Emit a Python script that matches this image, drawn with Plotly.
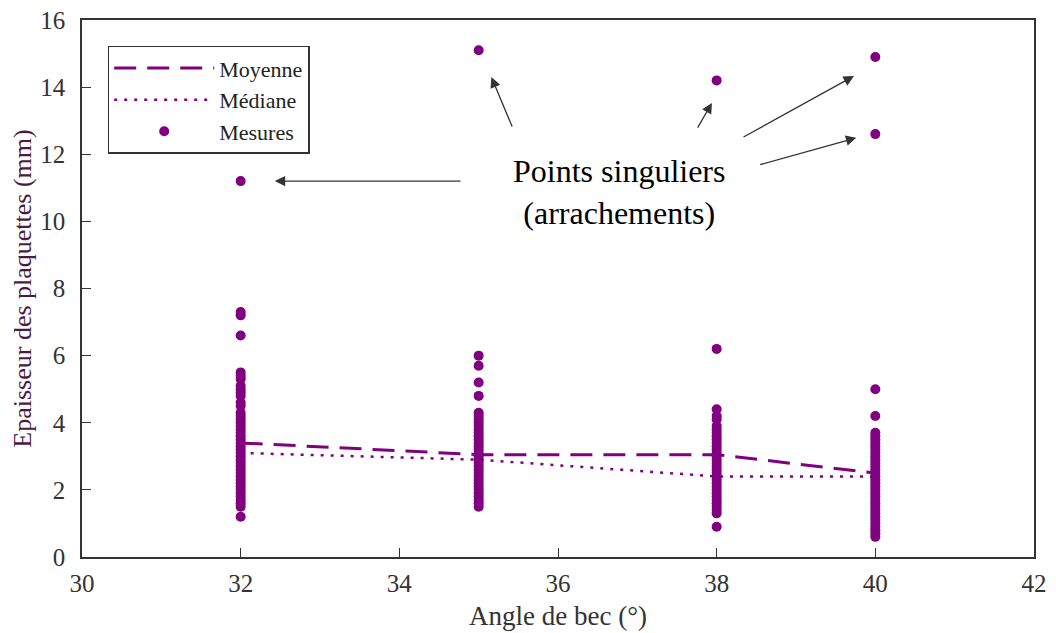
import plotly.graph_objects as go

# Summary lines
angles = [32, 35, 38, 40]
moyenne = [3.4, 3.05, 3.05, 2.5]
mediane = [3.1, 2.9, 2.4, 2.4]

# Individual measurements (mm) per angle
mes_32 = [1.2, 1.5, 1.6, 1.7, 1.8, 1.9, 2.0, 2.1, 2.2, 2.3, 2.4, 2.5, 2.6, 2.7,
          2.8, 2.9, 3.0, 3.1, 3.2, 3.3, 3.4, 3.5, 3.6, 3.7, 3.8, 3.9, 4.0, 4.1,
          4.2, 4.3, 4.5, 4.6, 4.8, 4.9, 5.0, 5.1, 5.3, 5.4, 5.5, 6.6, 7.2, 7.3, 11.2]
mes_35 = [1.5, 1.6, 1.7, 1.8, 1.9, 2.0, 2.1, 2.2, 2.3, 2.4, 2.5, 2.6, 2.7, 2.8,
          2.9, 3.0, 3.1, 3.2, 3.3, 3.4, 3.5, 3.6, 3.7, 3.8, 3.9, 4.0, 4.1, 4.2,
          4.3, 4.8, 5.2, 5.7, 6.0, 15.1]
mes_38 = [0.9, 1.3, 1.4, 1.5, 1.6, 1.7, 1.8, 1.9, 2.0, 2.1, 2.2, 2.3, 2.4, 2.5,
          2.6, 2.7, 2.8, 2.9, 3.0, 3.1, 3.2, 3.3, 3.4, 3.5, 3.6, 3.7, 3.8, 3.9,
          4.1, 4.2, 4.4, 6.2, 14.2]
mes_40 = [0.6, 0.7, 0.8, 0.9, 1.0, 1.1, 1.2, 1.3, 1.4, 1.5, 1.6, 1.7, 1.8, 1.9,
          2.0, 2.1, 2.2, 2.3, 2.4, 2.5, 2.6, 2.7, 2.8, 2.9, 3.0, 3.1, 3.2, 3.3,
          3.4, 3.5, 3.6, 3.7, 4.2, 5.0, 12.6, 14.9]

mesures = {32: mes_32, 35: mes_35, 38: mes_38, 40: mes_40}
mx, my = [], []
for a, vals in mesures.items():
    mx += [a] * len(vals)
    my += vals

# Annotation arrows (head x, head y, tail x, tail y) in data units
arrows = [
    (32.43, 11.20, 34.79, 11.20),
    (35.16, 14.30, 35.43, 12.78),
    (37.94, 13.53, 37.75, 12.75),
    (39.73, 14.33, 38.32, 12.49),
    (39.76, 12.49, 38.53, 11.68),
]

PURPLE = "#800080"
FONT = "Liberation Serif, Times New Roman, serif"

fig = go.Figure()
fig.add_trace(go.Scatter(x=angles, y=moyenne, mode="lines", name="Moyenne",
                         line=dict(color=PURPLE, width=3, dash="22px,11px")))
fig.add_trace(go.Scatter(x=angles, y=mediane, mode="lines", name="Médiane",
                         line=dict(color=PURPLE, width=2.5, dash="3px,7px")))
fig.add_trace(go.Scatter(x=mx, y=my, mode="markers", name="Mesures",
                         marker=dict(color=PURPLE, size=10)))

for hx, hy, tx, ty in arrows:
    fig.add_annotation(x=hx, y=hy, ax=tx, ay=ty, xref="x", yref="y",
                       axref="x", ayref="y", showarrow=True, text="",
                       arrowhead=2, arrowsize=1.6, arrowwidth=1.3,
                       arrowcolor="#333333", standoff=0)

fig.add_annotation(x=36.77, y=10.88, xref="x", yref="y", showarrow=False,
                   text="Points singuliers<br>(arrachements)",
                   font=dict(family=FONT, size=32, color="black"))

fig.update_layout(
    width=1048, height=625,
    margin=dict(l=74, r=22, t=12, b=76, autoexpand=False),
    paper_bgcolor="white", plot_bgcolor="white",
    font=dict(family=FONT, size=25, color="#333333"),
    showlegend=True,
    legend=dict(x=0.027, y=0.952, xanchor="left", yanchor="top",
                bgcolor="white", bordercolor="#333333", borderwidth=1.5,
                font=dict(family=FONT, size=22, color="#222222"),
                tracegroupgap=0, itemwidth=100),
)
fig.update_xaxes(range=[30, 42], tickmode="array", tickvals=[30, 32, 34, 36, 38, 40, 42],
                 ticks="inside", ticklen=9, tickcolor="#333333", showline=True,
                 linecolor="#333333", linewidth=1.5, mirror=True, showgrid=False,
                 zeroline=False, automargin=False, ticklabelstandoff=3,
                 ticklabeloverflow="allow",
                 title=dict(text="Angle de bec (°)", font=dict(family=FONT, size=27, color="#333333"),
                            standoff=10))
fig.update_yaxes(range=[0, 16], tickmode="array", tickvals=list(range(0, 17, 2)),
                 ticks="inside", ticklen=9, tickcolor="#333333", showline=True,
                 linecolor="#333333", linewidth=1.5, mirror=True, showgrid=False,
                 zeroline=False, automargin=False, ticklabelstandoff=10,
                 ticklabeloverflow="allow",
                 title=dict(text="Epaisseur des plaquettes (mm)",
                            font=dict(family=FONT, size=26, color="#4a1a40"), standoff=10))

fig.write_html("out.html")
